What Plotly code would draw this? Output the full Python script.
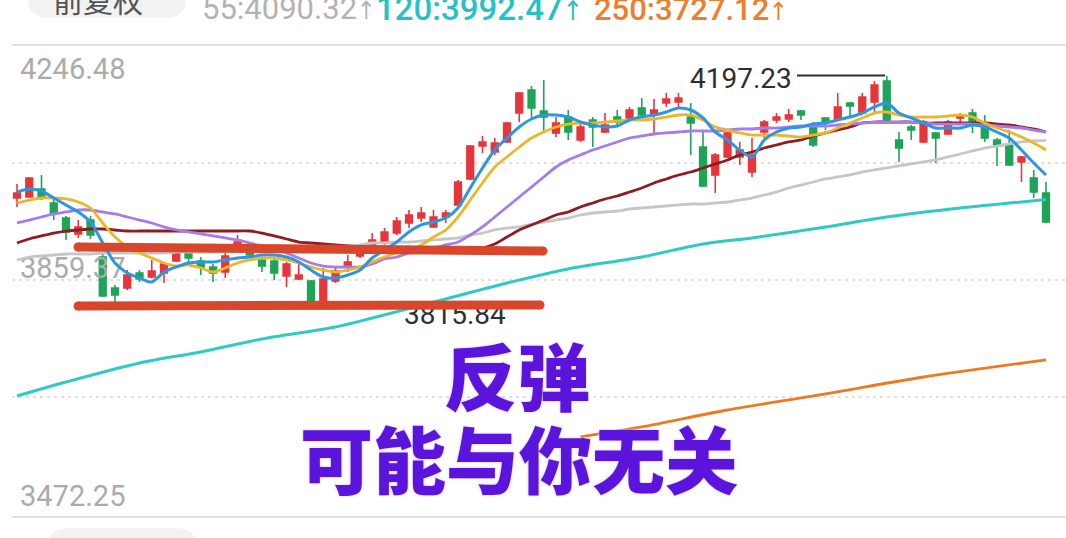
import plotly.graph_objects as go

# ---------------- data ----------------
idx = list(range(85))

open_ = [3995.0, 3996.7, 4009.9, 3986.8, 3961.9, 3935.5, 3958.6, 3897.4, 3846.1, 3846.1,
         3871.0, 3864.3, 3871.0, 3890.8, 3905.7, 3890.8, 3880.9, 3872.6, 3912.3, 3914.0,
         3892.5, 3890.8, 3866.0, 3861.0, 3857.7, 3823.0, 3857.7, 3880.9, 3899.1, 3914.0,
         3922.2, 3937.1, 3953.7, 3961.9, 3947.1, 3963.6, 3983.5, 4026.5, 4081.0, 4071.1,
         4087.7, 4135.6, 4173.7, 4139.0, 4102.6, 4129.0, 4091.0, 4124.1, 4104.2, 4129.0,
         4127.4, 4143.9, 4132.3, 4152.2, 4153.8, 4129.0, 4079.4, 4033.1, 4062.9, 4062.9,
         4038.0, 4104.2, 4124.1, 4125.7, 4139.0, 4112.5, 4127.4, 4125.7, 4152.2, 4135.6,
         4153.8, 4188.6, 4091.0, 4112.5, 4087.7, 4102.6, 4100.9, 4127.4, 4135.6, 4115.8,
         4091.0, 4082.7, 4054.6, 4028.1, 4003.3]
high = [4018.2, 4029.8, 4033.1, 3993.4, 3965.3, 3958.6, 3965.3, 3905.7, 3851.1, 3875.9,
        3875.9, 3892.5, 3887.5, 3905.7, 3907.3, 3897.4, 3885.8, 3904.0, 3933.8, 3917.3,
        3897.4, 3897.4, 3889.2, 3890.8, 3859.4, 3879.2, 3882.5, 3900.7, 3918.9, 3937.1,
        3945.4, 3963.6, 3975.2, 3980.1, 3975.2, 3975.2, 4024.8, 4082.7, 4097.6, 4094.3,
        4120.7, 4170.4, 4180.3, 4190.2, 4129.0, 4140.6, 4119.1, 4129.0, 4135.6, 4140.6,
        4145.6, 4160.5, 4158.8, 4168.7, 4168.7, 4152.2, 4104.2, 4069.5, 4104.2, 4087.7,
        4094.3, 4124.1, 4135.6, 4142.3, 4140.6, 4120.7, 4129.0, 4168.7, 4153.8, 4168.7,
        4188.6, 4197.23, 4104.2, 4115.8, 4124.1, 4104.2, 4124.1, 4135.6, 4142.3, 4132.3,
        4094.3, 4107.5, 4064.5, 4041.4, 4021.5]
low = [3980.1, 3995.0, 3991.7, 3958.6, 3925.6, 3928.9, 3927.2, 3831.3, 3823.0, 3842.8,
       3856.1, 3862.0, 3854.4, 3889.2, 3887.5, 3867.6, 3856.1, 3862.7, 3904.0, 3899.1,
       3872.6, 3859.4, 3847.8, 3859.4, 3818.0, 3815.84, 3854.4, 3872.6, 3895.8, 3909.0,
       3917.3, 3933.8, 3945.4, 3955.3, 3945.4, 3953.7, 3980.1, 4024.8, 4069.5, 4066.2,
       4086.0, 4120.7, 4127.4, 4104.2, 4095.9, 4091.0, 4087.7, 4079.4, 4102.6, 4112.5,
       4124.1, 4127.4, 4102.6, 4145.6, 4143.9, 4066.2, 4013.2, 4003.3, 4061.2, 4049.6,
       4029.8, 4094.3, 4119.1, 4120.7, 4124.1, 4079.4, 4107.5, 4124.1, 4129.0, 4132.3,
       4135.6, 4120.7, 4054.6, 4091.0, 4086.0, 4052.9, 4099.2, 4120.7, 4102.6, 4087.7,
       4047.9, 4047.9, 4021.5, 3995.0, 3953.7]
close = [4003.3, 4028.1, 3995.0, 3970.2, 3938.8, 3947.1, 3933.8, 3832.9, 3834.6, 3867.6,
         3861.0, 3874.3, 3885.8, 3904.0, 3895.8, 3880.9, 3871.0, 3899.1, 3922.2, 3900.7,
         3882.5, 3871.0, 3885.8, 3867.6, 3823.0, 3861.0, 3874.3, 3889.2, 3914.0, 3925.6,
         3938.8, 3957.0, 3966.9, 3970.2, 3963.6, 3970.2, 4021.5, 4081.0, 4087.7, 4086.0,
         4119.1, 4168.7, 4143.9, 4129.0, 4119.1, 4104.2, 4112.5, 4112.5, 4115.8, 4120.7,
         4140.6, 4132.3, 4140.6, 4158.8, 4160.5, 4119.1, 4014.9, 4066.2, 4102.6, 4074.4,
         4066.2, 4120.7, 4129.0, 4132.3, 4132.3, 4082.7, 4120.7, 4145.6, 4147.2, 4162.1,
         4182.0, 4124.1, 4077.7, 4107.5, 4120.7, 4094.3, 4120.7, 4132.3, 4120.7, 4094.3,
         4082.7, 4049.6, 4062.9, 4005.0, 3955.3]

ma5 = [4005.0, 4009.9, 4006.6, 3995.0, 3983.5, 3971.9, 3955.3, 3920.6, 3887.5, 3871.0,
       3862.7, 3856.1, 3872.6, 3880.9, 3887.5, 3889.2, 3889.2, 3892.5, 3895.8, 3897.4,
       3900.7, 3900.7, 3897.4, 3889.2, 3875.9, 3864.3, 3862.7, 3867.6, 3875.9, 3895.8,
       3909.0, 3922.2, 3938.8, 3950.4, 3955.3, 3961.9, 3978.5, 4011.6, 4044.7, 4074.4,
       4094.3, 4112.5, 4125.7, 4132.3, 4132.3, 4129.0, 4120.7, 4115.8, 4112.5, 4114.1,
       4124.1, 4129.0, 4132.3, 4137.3, 4143.9, 4140.6, 4127.4, 4104.2, 4091.0, 4074.4,
       4062.9, 4091.0, 4104.2, 4110.8, 4112.5, 4117.4, 4119.1, 4124.1, 4129.0, 4135.6,
       4145.6, 4152.2, 4135.6, 4127.4, 4119.1, 4110.8, 4110.8, 4110.8, 4115.8, 4112.5,
       4104.2, 4094.3, 4074.4, 4052.9, 4033.1]
ma10 = [3986.8, 3991.7, 3995.0, 3995.0, 3993.4, 3988.4, 3978.5, 3953.7, 3930.5, 3914.0,
        3904.0, 3895.8, 3887.5, 3882.5, 3884.2, 3879.2, 3872.6, 3879.2, 3887.5, 3892.5,
        3895.8, 3895.8, 3892.5, 3887.5, 3880.9, 3875.9, 3872.6, 3875.9, 3880.9, 3889.2,
        3897.4, 3904.0, 3909.0, 3917.3, 3930.5, 3942.1, 3963.6, 3991.7, 4019.8, 4046.3,
        4062.9, 4079.4, 4094.3, 4104.2, 4112.5, 4117.4, 4119.1, 4119.1, 4120.7, 4122.4,
        4124.1, 4124.1, 4125.7, 4129.0, 4132.3, 4132.3, 4124.1, 4112.5, 4107.5, 4102.6,
        4099.2, 4099.2, 4099.2, 4097.6, 4095.9, 4099.2, 4102.6, 4110.8, 4119.1, 4127.4,
        4135.6, 4137.3, 4132.3, 4129.0, 4129.0, 4129.0, 4130.7, 4132.3, 4129.0, 4119.1,
        4110.8, 4104.2, 4095.9, 4086.0, 4074.4]
ma20 = [3953.7, 3958.6, 3963.6, 3968.6, 3971.9, 3975.2, 3975.2, 3971.9, 3968.6, 3963.6,
        3958.6, 3953.7, 3947.1, 3942.1, 3938.8, 3935.5, 3932.2, 3928.9, 3925.6, 3920.6,
        3915.6, 3912.3, 3904.0, 3895.8, 3887.5, 3882.5, 3880.9, 3880.9, 3880.9, 3885.8,
        3894.1, 3897.4, 3904.0, 3905.7, 3912.3, 3917.3, 3922.2, 3933.8, 3947.1, 3963.6,
        3980.1, 3996.7, 4013.2, 4029.8, 4046.3, 4057.9, 4066.2, 4074.4, 4081.0, 4087.7,
        4094.3, 4097.6, 4100.9, 4102.6, 4104.2, 4105.9, 4105.9, 4105.9, 4107.5, 4109.2,
        4109.2, 4110.8, 4110.8, 4112.5, 4114.1, 4114.1, 4114.1, 4115.8, 4117.4, 4119.1,
        4120.7, 4120.7, 4120.7, 4120.7, 4119.1, 4117.4, 4117.4, 4117.4, 4117.4, 4115.8,
        4114.1, 4112.5, 4110.8, 4107.5, 4104.2]
ma30 = [3920.6, 3927.2, 3932.2, 3937.1, 3940.4, 3942.1, 3943.7, 3943.7, 3942.1, 3940.4,
        3940.4, 3940.4, 3940.4, 3940.4, 3940.4, 3940.4, 3940.4, 3940.4, 3940.4, 3940.4,
        3937.1, 3932.2, 3927.2, 3922.2, 3920.6, 3918.9, 3917.3, 3915.6, 3914.0, 3912.3,
        3910.7, 3910.7, 3910.7, 3910.7, 3910.7, 3910.7, 3910.7, 3910.7, 3912.3, 3918.9,
        3930.5, 3942.1, 3950.4, 3958.6, 3966.9, 3971.9, 3980.1, 3986.8, 3993.4, 3998.3,
        4004.9, 4011.6, 4019.8, 4026.5, 4033.1, 4038.0, 4044.7, 4051.3, 4057.9, 4066.2,
        4071.1, 4077.7, 4082.7, 4087.7, 4091.0, 4097.6, 4102.6, 4107.5, 4112.5, 4119.1,
        4120.7, 4120.7, 4120.7, 4120.7, 4119.1, 4119.1, 4119.1, 4119.1, 4119.1, 4119.1,
        4117.4, 4115.8, 4112.5, 4109.2, 4104.2]
ma55 = [3892.5, 3897.4, 3899.1, 3900.7, 3902.4, 3902.4, 3902.4, 3904.0, 3904.0, 3904.0,
        3904.0, 3904.0, 3904.0, 3905.7, 3905.7, 3905.7, 3905.7, 3907.3, 3907.3, 3907.3,
        3909.0, 3909.0, 3910.7, 3910.7, 3912.3, 3912.3, 3914.0, 3915.6, 3917.3, 3920.6,
        3920.6, 3922.2, 3922.2, 3923.9, 3925.6, 3927.2, 3928.9, 3933.8, 3937.1, 3942.1,
        3945.4, 3947.1, 3952.0, 3955.3, 3958.6, 3961.9, 3966.9, 3970.2, 3971.9, 3973.5,
        3976.8, 3978.5, 3980.1, 3981.8, 3983.5, 3985.1, 3985.1, 3986.8, 3988.4, 3991.7,
        3995.0, 4000.0, 4004.9, 4011.6, 4016.5, 4021.5, 4026.5, 4029.8, 4033.1, 4038.0,
        4041.4, 4044.7, 4048.0, 4051.3, 4054.6, 4057.9, 4062.9, 4067.8, 4072.8, 4077.7,
        4081.0, 4084.4, 4087.7, 4089.3, 4090.32]
ma120_idx = [0, 4, 10, 15, 20, 26, 29, 35, 40, 45, 51, 56, 60, 66, 71, 77, 82, 84]
ma120 = [3667.5, 3690.6, 3722.1, 3740.3, 3761.8, 3781.6, 3796.5, 3827.9, 3854.4, 3877.6,
         3897.4, 3918.9, 3928.9, 3947.1, 3963.6, 3978.5, 3988.4, 3992.47]
ma250_idx = [46, 51, 58, 66, 74, 84]
ma250 = [3599.7, 3616.2, 3644.3, 3670.8, 3698.9, 3727.12]

y_tick_labels = ["4246.48", "3859.37", "3472.25"]
y_top, y_bottom = 4246.48, 3472.25
header_values = ["55:4090.32", "120:3992.47", "250:3727.12"]
title_line1 = "反弹"
title_line2 = "可能与你无关"

# ---------------- layout helpers (pixel -> paper) ----------------
W, H = 1066, 538
MT, MB = 46, 24
PH = H - MT - MB
STEP, FIRST = 12.25, 17.0


def px(x):
    return x / W


def py(y):
    return (H - MB - y) / PH


def xi(pxv):
    return (pxv - FIRST) / STEP


def yv(pyv):
    return y_top - (pyv - MT) * (y_top - y_bottom) / PH


RED = "#E6363C"
GREEN = "#1EA457"
BLUE = "#2C97E0"
YELLOW = "#EBB62A"
PURPLE = "#A57CEA"
DARKRED = "#8E1C20"
GRAY = "#C6C6C6"
CYAN = "#2FCAC2"
ORANGE = "#E97C22"
STROKE = "#D8472B"
TXT_PURPLE = "#5A14DC"

fig = go.Figure()

# y axis labels (under the candles)
label_vals = [yv(72), yv(271), yv(499)]
fig.add_trace(go.Scatter(x=[xi(20)] * 3, y=label_vals, mode="text", text=y_tick_labels,
                         textposition="middle right", cliponaxis=False,
                         textfont=dict(family="Roboto", size=29, color="#ABABAB"),
                         hoverinfo="skip"))

fig.add_trace(go.Candlestick(x=idx, open=open_, high=high, low=low, close=close,
                             increasing=dict(line=dict(color=RED, width=1.6), fillcolor=RED),
                             decreasing=dict(line=dict(color=GREEN, width=1.6), fillcolor=GREEN),
                             whiskerwidth=0, hoverinfo="skip"))


def ma_line(xs, ys, color, width=2.8):
    fig.add_trace(go.Scatter(x=xs, y=ys, mode="lines",
                             line=dict(color=color, width=width, shape="spline", smoothing=0.8),
                             hoverinfo="skip"))


ma_line(ma120_idx, ma120, CYAN, 3.0)
ma_line(ma250_idx, ma250, ORANGE, 2.8)
ma_line(idx, ma55, GRAY, 2.8)
ma_line(idx, ma30, DARKRED, 2.8)
ma_line(idx, ma20, PURPLE, 2.8)
ma_line(idx, ma10, YELLOW, 2.8)
ma_line(idx, ma5, BLUE, 3.0)

# extreme value labels
hi_val = max(high)
lo_val = min(low)
fig.add_trace(go.Scatter(x=[xi(690), xi(404)], y=[yv(81), yv(317)], mode="text",
                         text=[f"{hi_val:.2f}", f"{lo_val:.2f}"], textposition="middle right",
                         cliponaxis=False,
                         textfont=dict(family="Roboto", size=28, color="#2E2E33"), hoverinfo="skip"))

shapes = []
# borders
for yy in (45, 517):
    shapes.append(dict(type="line", xref="paper", yref="paper", x0=px(12), x1=1, y0=py(yy), y1=py(yy),
                       line=dict(color="#E0E0E0", width=2), layer="below"))
# dotted grid
for frac in (0.25, 0.5, 0.75):
    v = y_bottom + (y_top - y_bottom) * frac
    shapes.append(dict(type="line", xref="paper", yref="y", x0=px(12), x1=1, y0=v, y1=v,
                       line=dict(color="#D6D6D6", width=1.3, dash="3px,4px"), layer="below"))
# high marker line
shapes.append(dict(type="line", xref="paper", yref="paper", x0=px(797), x1=px(885), y0=py(75.5), y1=py(75.5),
                   line=dict(color="#2E2E33", width=1.8)))


def rounded(x0, y0, x1, y1, r):
    pts = [("M", x0 + r, y0), ("L", x1 - r, y0), ("Q", x1, y0, x1, y0 + r), ("L", x1, y1 - r),
           ("Q", x1, y1, x1 - r, y1), ("L", x0 + r, y1), ("Q", x0, y1, x0, y1 - r), ("L", x0, y0 + r),
           ("Q", x0, y0, x0 + r, y0)]
    s = ""
    for p in pts:
        cmd = p[0]
        coords = p[1:]
        s += cmd + " " + " ".join(f"{px(coords[k]):.5f},{py(coords[k + 1]):.5f}"
                                  for k in range(0, len(coords), 2)) + " "
    return s + "Z"


shapes.append(dict(type="path", xref="paper", yref="paper", path=rounded(28, -24, 186, 18, 21),
                   fillcolor="#F2F2F2", line=dict(width=0)))
shapes.append(dict(type="path", xref="paper", yref="paper", path=rounded(47, 528, 197, 572, 21),
                   fillcolor="#F2F2F2", line=dict(width=0)))

# hand-drawn thick strokes
for (ax, ay, bx, by) in ((78, 247, 543, 251), (78, 306, 540, 305)):
    shapes.append(dict(type="line", xref="paper", yref="paper", x0=px(ax), y0=py(ay), x1=px(bx), y1=py(by),
                       line=dict(color=STROKE, width=9), layer="above"))
    for (cx, cy) in ((ax, ay), (bx, by)):
        r = 4.5
        shapes.append(dict(type="circle", xref="paper", yref="paper", x0=px(cx - r), x1=px(cx + r),
                           y0=py(cy + r), y1=py(cy - r), fillcolor=STROKE, line=dict(width=0), layer="above"))

halo = "0px 0px 3px rgba(200,185,245,0.9)"
annotations = [
    dict(text=title_line1, x=px(517), y=py(373), xref="paper", yref="paper", showarrow=False,
         xanchor="center", yanchor="middle",
         font=dict(family="Noto Sans CJK SC", size=73, color=TXT_PURPLE, weight=900, shadow=halo)),
    dict(text=title_line2, x=px(519), y=py(456), xref="paper", yref="paper", showarrow=False,
         xanchor="center", yanchor="middle",
         font=dict(family="Noto Sans CJK SC", size=73, color=TXT_PURPLE, weight=900, shadow=halo)),
    dict(text="前复权", x=px(98), y=py(-1), xref="paper", yref="paper", showarrow=False,
         xanchor="center", yanchor="middle", font=dict(family="Noto Sans CJK SC", size=30, color="#555555")),
]
header_style = [  # (left px, centre px, size, weight, colour)
    (202, 8.2, 31, 400, "#B3B3B3"),
    (376, 8.7, 33, 500, "#26C1C6"),
    (594, 9.0, 31, 500, "#EE7E2C"),
]
for lab, (x0, yc, sz, wt, col) in zip(header_values, header_style):
    arrow = f"<span style='font-family:DejaVu Sans Condensed;font-size:{sz - 6}px'>↑</span>"
    annotations.append(dict(text=lab + arrow, x=px(x0), y=py(yc), xref="paper", yref="paper", showarrow=False,
                            xanchor="left", yanchor="middle", xshift=-2,
                            font=dict(family="Roboto", size=sz, color=col, weight=wt)))

fig.update_layout(
    width=W, height=H, margin=dict(l=0, r=0, t=MT, b=MB, pad=0),
    paper_bgcolor="white", plot_bgcolor="white", showlegend=False,
    xaxis=dict(range=[xi(0), xi(W)], visible=False, rangeslider=dict(visible=False), fixedrange=True),
    yaxis=dict(range=[y_bottom, y_top], visible=False, fixedrange=True),
    boxgap=0.22,
    shapes=shapes, annotations=annotations,
)

fig.write_html("out.html", config={"displayModeBar": False},
               post_script="document.body.style.margin='0';document.body.style.overflow='hidden';")
